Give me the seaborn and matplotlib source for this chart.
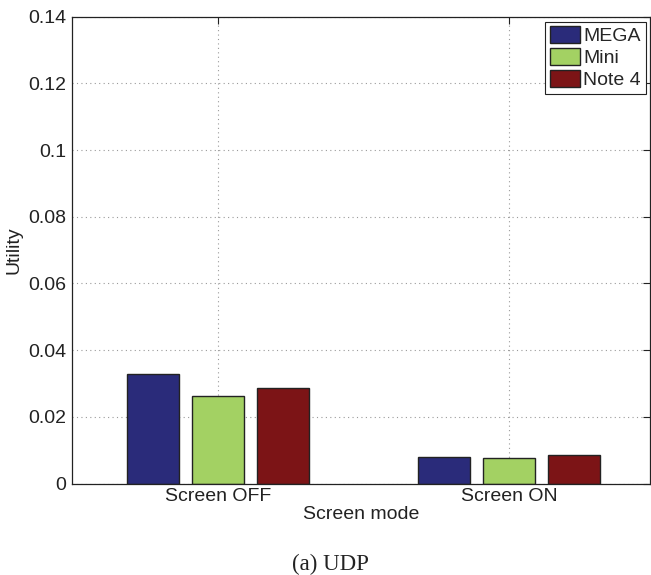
import matplotlib
matplotlib.use("Agg")
import matplotlib.pyplot as plt
import seaborn as sns
import pandas as pd

# Utility per device for each screen mode
modes = ["Screen OFF", "Screen ON"]
devices = ["MEGA", "Mini", "Note 4"]
mega = [0.0327, 0.0080]
mini = [0.0263, 0.0076]
note4 = [0.0285, 0.0087]
yticks = [0, 0.02, 0.04, 0.06, 0.08, 0.1, 0.12, 0.14]
ytick_labels = ["0", "0.02", "0.04", "0.06", "0.08", "0.1", "0.12", "0.14"]
colors = ["#2a2b7a", "#a3d163", "#7c1416"]

df = pd.DataFrame({
    "mode": modes * 3,
    "device": [d for d in devices for _ in modes],
    "utility": mega + mini + note4,
})

sns.set_style("white")
plt.rcParams["font.family"] = ["Liberation Sans", "DejaVu Sans"]

fig = plt.figure(figsize=(6.51, 5.75), dpi=100)
ax = fig.add_axes([0.1106, 0.1591, 0.8886, 0.8119])

sns.barplot(data=df, x="mode", y="utility", hue="device", order=modes,
            hue_order=devices, palette=colors, width=0.6675, gap=0.198,
            edgecolor="#222222", linewidth=1.0, saturation=1, ax=ax,
            errorbar=None)

ax.set_xlim(-0.5, 1.485)
ax.set_ylim(0, 0.14)
ax.set_yticks(yticks)
ax.set_yticklabels(ytick_labels)
ax.grid(True, linestyle=(0, (1, 3)), color="#9a9a9a", linewidth=0.8)
ax.set_axisbelow(True)
for s in ax.spines.values():
    s.set_visible(True)
    s.set_color("#222222")
    s.set_linewidth(0.9)
ax.tick_params(axis="both", direction="in", length=5, width=0.8,
               labelsize=14, colors="#222222", top=True, right=True,
               labeltop=False, labelright=False)
ax.tick_params(axis="x", pad=3)
ax.tick_params(axis="y", pad=4)
ax.set_xlabel("Screen mode", fontsize=14, color="#222222", labelpad=1)
ax.set_ylabel("Utility", fontsize=14, color="#222222", labelpad=4)

leg = ax.legend(loc="upper right", fontsize=14, frameon=True, fancybox=False,
                edgecolor="#222222", framealpha=1, borderpad=0.25,
                handlelength=1.55, handleheight=0.93, handletextpad=0.15,
                labelspacing=0.15, borderaxespad=0.25)
leg.get_frame().set_linewidth(0.8)

fig.text(330 / 651, 5 / 575, "(a) UDP", ha="center", va="baseline",
         fontsize=16.5, family=["Liberation Serif", "DejaVu Serif"],
         color="#222222")

fig.savefig("out.png", dpi=100)
